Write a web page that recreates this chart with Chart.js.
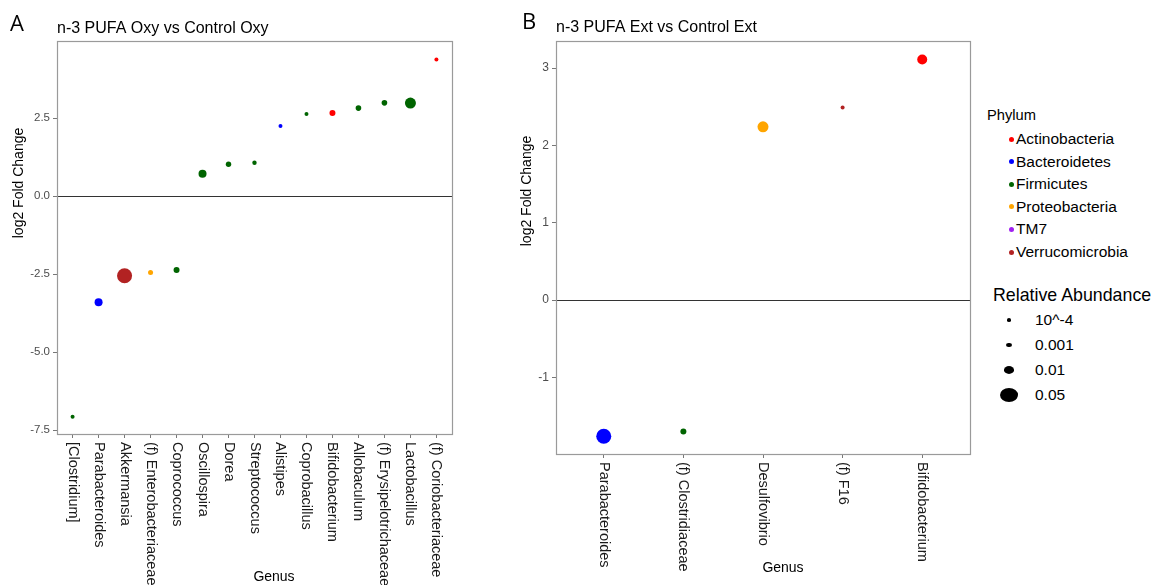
<!DOCTYPE html>
<html>
<head>
<meta charset="utf-8">
<script src="https://cdn.jsdelivr.net/npm/chart.js@4.4.0/dist/chart.umd.min.js"></script>
<style>
  body { margin: 0; background: #fff; width: 1158px; height: 585px; position: relative; overflow: hidden;
         font-family: "Liberation Sans", Arial, sans-serif; color: #000; }
  canvas { position: absolute; top: 0; }
  #chartA { left: 0; }
  #chartB { left: 500px; }
  .lg { position: absolute; white-space: nowrap; line-height: 18px; height: 18px; }
  .dot { position: absolute; border-radius: 50%; }
</style>
</head>
<body>
<canvas id="chartA" width="460" height="585"></canvas>
<canvas id="chartB" width="480" height="585"></canvas>
<div id="legend"></div>

<script>
// panel A: n-3 PUFA Oxy vs Control Oxy
const genusA = ["[Clostridium]", "Parabacteroides", "Akkermansia", "(f) Enterobacteriaceae", "Coprococcus",
  "Oscillospira", "Dorea", "Streptococcus", "Alistipes", "Coprobacillus", "Bifidobacterium", "Allobaculum",
  "(f) Erysipelotrichaceae", "Lactobacillus", "(f) Coriobacteriaceae"];
const phylumA = ["Firmicutes", "Bacteroidetes", "Verrucomicrobia", "Proteobacteria", "Firmicutes",
  "Firmicutes", "Firmicutes", "Firmicutes", "Bacteroidetes", "Firmicutes", "Actinobacteria", "Firmicutes",
  "Firmicutes", "Firmicutes", "Actinobacteria"];
const log2fcA = [-7.07, -3.40, -2.55, -2.45, -2.37, 0.72, 1.02, 1.07, 2.25, 2.63, 2.66, 2.82, 2.99, 2.98, 4.38];
const abundA = [0.0004, 0.01, 0.058, 0.0016, 0.0036, 0.01, 0.0023, 0.0008, 0.0004, 0.0004, 0.0036, 0.0028,
  0.0028, 0.0256, 0.0004];
const yTicksA = [-7.5, -5.0, -2.5, 0.0, 2.5];

// panel B: n-3 PUFA Ext vs Control Ext
const genusB = ["Parabacteroides", "(f) Clostridiaceae", "Desulfovibrio", "(f) F16", "Bifidobacterium"];
const phylumB = ["Bacteroidetes", "Firmicutes", "Proteobacteria", "Verrucomicrobia", "Actinobacteria"];
const log2fcB = [-1.76, -1.70, 2.24, 2.49, 3.11];
const abundB = [0.058, 0.0036, 0.0256, 0.0004, 0.0196];
const yTicksB = [-1, 0, 1, 2, 3];

// legend
const phylumNames = ["Actinobacteria", "Bacteroidetes", "Firmicutes", "Proteobacteria", "TM7", "Verrucomicrobia"];
const sizeBreaks = [0.0001, 0.001, 0.01, 0.05];
const sizeLabels = ["10^-4", "0.001", "0.01", "0.05"];

const phylumColors = {
  Actinobacteria: "#FF0000", Bacteroidetes: "#0000FF", Firmicutes: "#006400",
  Proteobacteria: "#FFA500", TM7: "#A020F0", Verrucomicrobia: "#B22222"
};

const radiusFor = a => 1.5 + 25 * Math.sqrt(a);

const FONT = "Liberation Sans, Arial, sans-serif";

const panelText = cfg => ({
  id: "panelText",
  afterDraw(chart) {
    const ctx = chart.ctx;
    const area = chart.chartArea;
    const xs = chart.scales.x;
    ctx.save();

    // panel box
    ctx.strokeStyle = "#9a9a9a";
    ctx.lineWidth = 1.2;
    ctx.strokeRect(area.left + 0.5, area.top + 0.5, area.right - area.left, area.bottom - area.top);

    // genus labels, rotated clockwise
    ctx.fillStyle = "#1a1a1a";
    ctx.font = "14.5px " + FONT;
    ctx.textAlign = "left";
    ctx.textBaseline = "middle";
    cfg.genus.forEach((g, i) => {
      ctx.save();
      ctx.translate(xs.getPixelForValue(i), area.bottom + 8);
      ctx.rotate(Math.PI / 2);
      ctx.fillText(g, 0, 0);
      ctx.restore();
    });

    // axis titles
    ctx.fillStyle = "#000";
    ctx.font = "14px " + FONT;
    ctx.textAlign = "center";
    ctx.textBaseline = "alphabetic";
    ctx.fillText("Genus", cfg.genusPos[0], cfg.genusPos[1]);

    ctx.save();
    ctx.translate(cfg.yTitlePos[0], cfg.yTitlePos[1]);
    ctx.rotate(-Math.PI / 2);
    ctx.textBaseline = "middle";
    ctx.fillText("log2 Fold Change", 0, 0);
    ctx.restore();

    // title and panel letter
    ctx.textAlign = "left";
    ctx.font = "16px " + FONT;
    ctx.fillText(cfg.title, area.left, cfg.titleY);
    ctx.font = "22px Open Sans, " + FONT;
    ctx.fillText(cfg.letter, cfg.letterPos[0], cfg.letterPos[1]);

    ctx.restore();
  }
});

function makePanel(id, cfg) {
  const n = cfg.genus.length;
  return new Chart(document.getElementById(id), {
    type: "scatter",
    data: {
      datasets: [{
        data: cfg.fc.map((v, i) => ({ x: i, y: v })),
        pointRadius: cfg.abund.map(radiusFor),
        pointHoverRadius: cfg.abund.map(radiusFor),
        pointBackgroundColor: cfg.phylum.map(p => phylumColors[p]),
        pointBorderWidth: 0
      }]
    },
    options: {
      responsive: false,
      animation: false,
      devicePixelRatio: 1,
      events: [],
      layout: { padding: { left: 0, right: cfg.padRight, top: 41, bottom: 0 } },
      plugins: { legend: { display: false }, tooltip: { enabled: false } },
      scales: {
        x: {
          type: "linear",
          min: -0.6,
          max: n - 1 + 0.6,
          afterBuildTicks: s => { s.ticks = cfg.genus.map((g, i) => ({ value: i })); },
          afterFit: s => { s.height = cfg.xHeight; },
          ticks: { display: false },
          grid: { drawOnChartArea: false, tickLength: 4, tickColor: "#777" },
          border: { display: false }
        },
        y: {
          min: cfg.yMin,
          max: cfg.yMax,
          afterBuildTicks: s => { s.ticks = cfg.yTicks.map(v => ({ value: v })); },
          afterFit: s => { s.width = cfg.yWidth; },
          ticks: {
            callback: v => v.toFixed(cfg.dec),
            color: "#4d4d4d",
            font: { size: cfg.tickSize, family: FONT },
            padding: 3
          },
          grid: {
            color: c => (c.tick && c.tick.value === 0) ? "#333" : "rgba(0,0,0,0)",
            tickColor: "#777",
            tickLength: 4
          },
          border: { display: false }
        }
      }
    },
    plugins: [panelText(cfg)]
  });
}

makePanel("chartA", {
  genus: genusA, phylum: phylumA, fc: log2fcA, abund: abundA, yTicks: yTicksA,
  yMin: -7.62, yMax: 4.97, dec: 1, tickSize: 11.5,
  padRight: 8, yWidth: 57, xHeight: 151,
  title: "n-3 PUFA Oxy vs Control Oxy", titleY: 32.5,
  letter: "A", letterPos: [10, 31],
  genusPos: [274, 581], yTitlePos: [19, 183]
});

makePanel("chartB", {
  genus: genusB, phylum: phylumB, fc: log2fcB, abund: abundB, yTicks: yTicksB,
  yMin: -1.99, yMax: 3.35, dec: 0, tickSize: 12,
  padRight: 10, yWidth: 56, xHeight: 131,
  title: "n-3 PUFA Ext vs Control Ext", titleY: 32,
  letter: "B", letterPos: [22, 28.5],
  genusPos: [283, 572], yTitlePos: [27.5, 191]
});

// legend (html)
const legend = document.getElementById("legend");
function addText(txt, left, cy, size) {
  const d = document.createElement("div");
  d.className = "lg";
  d.style.left = left + "px";
  d.style.top = (cy - 9) + "px";
  d.style.fontSize = size + "px";
  d.textContent = txt;
  legend.appendChild(d);
}
function addDot(cx, cy, rx, ry, color) {
  const d = document.createElement("div");
  d.className = "dot";
  d.style.left = (cx - rx) + "px";
  d.style.top = (cy - ry) + "px";
  d.style.width = (2 * rx) + "px";
  d.style.height = (2 * ry) + "px";
  d.style.background = color;
  legend.appendChild(d);
}

addText("Phylum", 987, 115, 14.7);
phylumNames.forEach((p, i) => {
  const cy = 139 + i * 22.6;
  addDot(1011, cy, 2.5, 2.5, phylumColors[p]);
  addText(p, 1016, cy, 15.5);
});

addText("Relative Abundance", 993, 295, 17.8);
sizeBreaks.forEach((b, i) => {
  const cy = 320 + i * 25;
  const r = radiusFor(b);
  addDot(1009, cy, r * 1.3, r, "#000");
  addText(sizeLabels[i], 1035, cy, 15.5);
});
</script>
</body>
</html>
